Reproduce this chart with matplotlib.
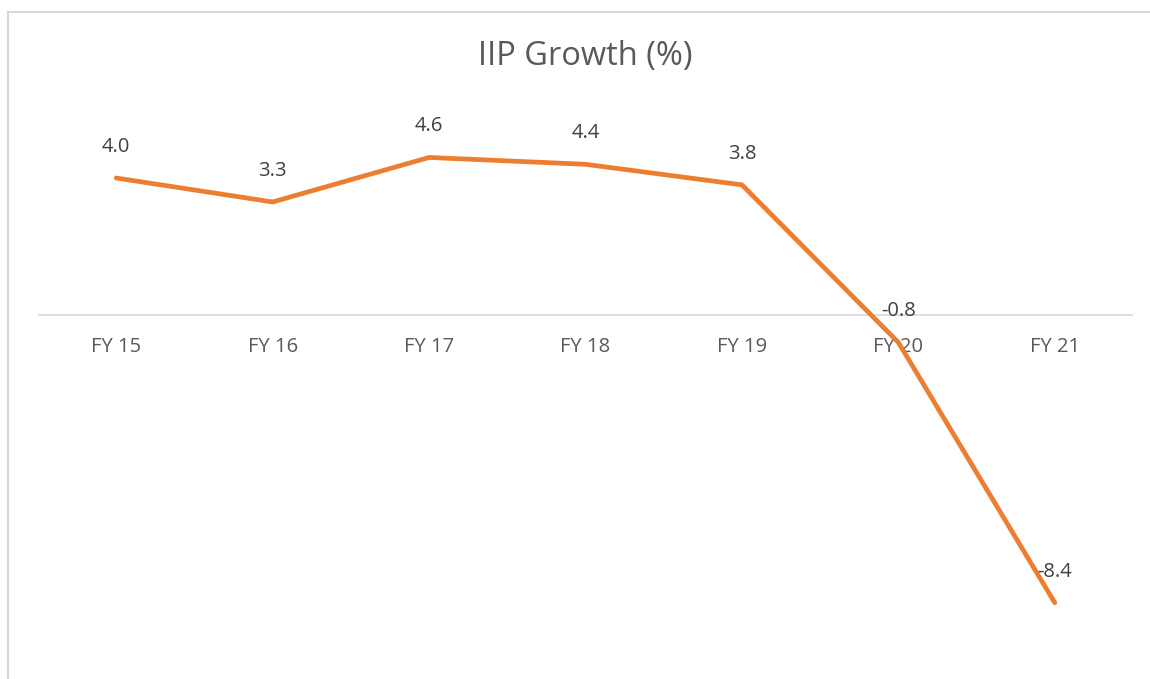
import matplotlib
matplotlib.use("Agg")
import matplotlib.pyplot as plt
from matplotlib.lines import Line2D

# data
years = ["FY 15", "FY 16", "FY 17", "FY 18", "FY 19", "FY 20", "FY 21"]
growth = [4.0, 3.3, 4.6, 4.4, 3.8, -0.8, -8.4]

W, H = 1150, 679
fig = plt.figure(figsize=(W / 100, H / 100), dpi=100)
plt.rcParams['font.family'] = ['Open Sans', 'DejaVu Sans']

# plot area: zero line at y=315px, 34.25 px per unit, categories 156.5 px wide
ymin, ymax = -10, 6
ppu = 34.25
top_px = 315 - ymax * ppu
bot_px = 315 - ymin * ppu
ax = fig.add_axes([38 / W, 1 - bot_px / H, (1133 - 38) / W, (bot_px - top_px) / H])
ax.set_xlim(-0.5, len(years) - 0.5)
ax.set_ylim(ymin, ymax)
ax.axis("off")

# horizontal category axis at zero
ax.axhline(0, color="#d9d9d9", lw=1.2, zorder=1)

x = list(range(len(years)))
ax.plot(x, growth, color="#ed7d31", lw=3.4, solid_capstyle="round",
        solid_joinstyle="round", zorder=3)

for xi, lab in zip(x, years):
    ax.annotate(lab, (xi, 0), xytext=(0, -32), textcoords="offset pixels",
                ha="center", va="center", fontsize=14.5, color="#595959", zorder=2)

for xi, v in zip(x, growth):
    ax.annotate(f"{v:.1f}", (xi, v), xytext=(0, 31), textcoords="offset pixels",
                ha="center", va="center", fontsize=14.5, color="#404040", zorder=4)

fig.text(585 / W, 1 - 56 / H, "IIP Growth (%)", ha="center", va="center",
         fontsize=23.5, color="#595959")

# chart border (only left and top edges visible)
fig.add_artist(Line2D([8 / W, 8 / W], [0, 1 - 11.5 / H], color="#d9d9d9", lw=1.5,
                      transform=fig.transFigure))
fig.add_artist(Line2D([8 / W, 1], [1 - 11.5 / H, 1 - 11.5 / H], color="#d9d9d9", lw=1.5,
                      transform=fig.transFigure))

fig.savefig("out.png", dpi=100, facecolor="white")
